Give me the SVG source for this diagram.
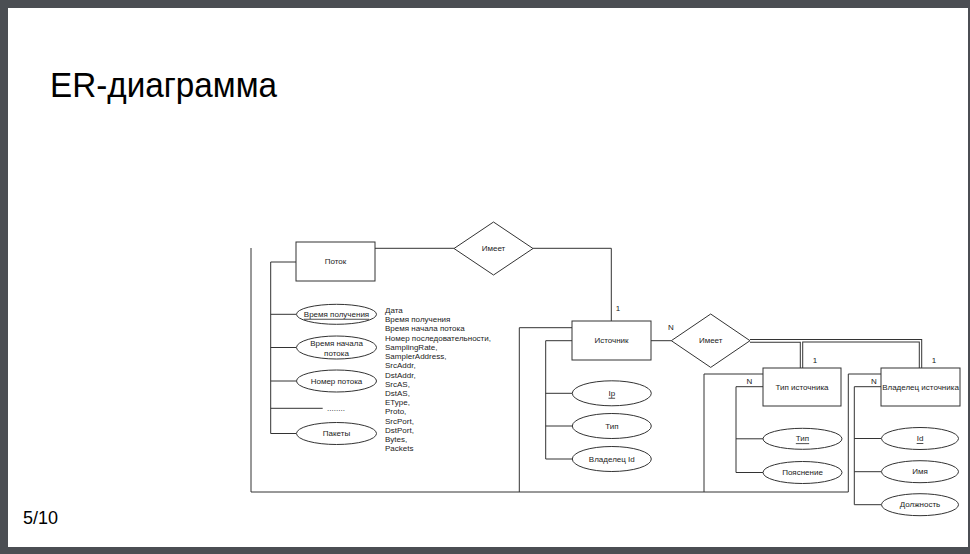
<svg xmlns="http://www.w3.org/2000/svg" width="970" height="554" viewBox="0 0 970 554">
<style>
.ln{fill:none;stroke:#333;stroke-width:1}
.shape{fill:#fff;stroke:#333;stroke-width:1}
.t{font-family:"Liberation Sans",Arial,sans-serif;font-size:8px;fill:#222}
.c{text-anchor:middle;dominant-baseline:central}
.u{text-decoration:underline}
.dbl{fill:none;stroke:#333;stroke-width:3.4}
.dblw{fill:none;stroke:#fff;stroke-width:1.4}
</style>
<rect x="0" y="0" width="970" height="554" fill="#4b4e53"/>
<rect x="8" y="8" width="960" height="539" fill="#fff"/>
<text x="50" y="97" font-family="Liberation Sans, Arial, sans-serif" font-size="35" textLength="227" lengthAdjust="spacingAndGlyphs" fill="#000">ER-диаграмма</text>
<text x="23" y="524" font-family="Liberation Sans, Arial, sans-serif" font-size="18" fill="#000">5/10</text>

<g id="connectors">
  <path class="ln" d="M251,248 V492 H848.3 V374 H881"/>
  <path class="ln" d="M296,262 H270.7 V433.5 H296"/>
  <path class="ln" d="M270.7,314.3 H296 M270.7,347.5 H296 M270.7,381 H296 M270.7,408.3 H322.7"/>
  <path class="ln" d="M375,248.3 H454"/>
  <path class="ln" d="M533,248.3 H611.3 V321"/>
  <path class="ln" d="M572,327.7 H519.3 V492"/>
  <path class="ln" d="M572,340.7 H545.7 V459 H572 M545.7,393.3 H572 M545.7,426 H572"/>
  <path class="ln" d="M651,340.7 H671.3"/>
  <path class="ln" d="M763,374 H704 V492"/>
  <path class="ln" d="M763,386.7 H736 V472.5 H763 M736,438.8 H763"/>
  <path class="ln" d="M881,386.7 H854.3 V504.7 H881 M854.3,438.5 H881 M854.3,471.7 H881"/>
  <path class="dbl" d="M750,340.7 H801.5 V368"/>
  <path class="dbl" d="M750,340.7 H920.5 V368"/>
  <path class="dblw" d="M750,340.7 H801.5 V368"/>
  <path class="dblw" d="M750,340.7 H920.5 V368"/>
  <text class="t c" x="618" y="308.5">1</text>
  <text class="t c" x="671" y="327.7">N</text>
  <text class="t c" x="815" y="360.5">1</text>
  <text class="t c" x="934" y="360.5">1</text>
  <text class="t c" x="749.3" y="381">N</text>
  <text class="t c" x="874" y="381">N</text>
</g>

<g id="potok"><rect class="shape" x="296" y="242" width="79" height="39"/><text class="t c" x="335.5" y="261.5">Поток</text></g>
<g id="attr-vremya-polucheniya"><ellipse class="shape" cx="336.5" cy="314.3" rx="40" ry="10"/><text class="t c u" x="336.5" y="314.3">Время получения</text></g>
<g id="attr-vremya-nachala"><ellipse class="shape" cx="336.5" cy="347.5" rx="40" ry="11.5"/><text class="t" text-anchor="middle" x="336.5" y="346">Время начала</text><text class="t" text-anchor="middle" x="336.5" y="355.5">потока</text></g>
<g id="attr-nomer-potoka"><ellipse class="shape" cx="336.5" cy="381" rx="40" ry="11"/><text class="t c" x="336.5" y="381">Номер потока</text></g>
<g id="attr-more"><text class="t c" x="336" y="408">........</text></g>
<g id="attr-pakety"><ellipse class="shape" cx="336.5" cy="433.5" rx="40" ry="11"/><text class="t c" x="336.5" y="433.5">Пакеты</text></g>
<g id="field-list">
  <text class="t" x="385" y="313">Дата</text>
  <text class="t" x="385" y="322.2">Время получения</text>
  <text class="t" x="385" y="331.4">Время начала потока</text>
  <text class="t" x="385" y="340.7">Номер последовательности,</text>
  <text class="t" x="385" y="349.9">SamplingRate,</text>
  <text class="t" x="385" y="359.1">SamplerAddress,</text>
  <text class="t" x="385" y="368.3">SrcAddr,</text>
  <text class="t" x="385" y="377.5">DstAddr,</text>
  <text class="t" x="385" y="386.8">SrcAS,</text>
  <text class="t" x="385" y="396">DstAS,</text>
  <text class="t" x="385" y="405.2">EType,</text>
  <text class="t" x="385" y="414.4">Proto,</text>
  <text class="t" x="385" y="423.6">SrcPort,</text>
  <text class="t" x="385" y="432.9">DstPort,</text>
  <text class="t" x="385" y="442.1">Bytes,</text>
  <text class="t" x="385" y="451.3">Packets</text>
</g>

<g id="rel-imeet-1"><polygon class="shape" points="454,248.5 493.5,222 533,248.5 493.5,275"/><text class="t c" x="493.5" y="248.5">Имеет</text></g>

<g id="istochnik"><rect class="shape" x="572" y="321" width="79" height="39"/><text class="t c" x="611.5" y="340.5">Источник</text></g>
<g id="attr-ip"><ellipse class="shape" cx="611.8" cy="393.3" rx="39.5" ry="12.5"/><text class="t c u" x="611.8" y="393.3">Ip</text></g>
<g id="attr-tip"><ellipse class="shape" cx="611.8" cy="426" rx="39.5" ry="12.5"/><text class="t c" x="611.8" y="426">Тип</text></g>
<g id="attr-vladelec-id"><ellipse class="shape" cx="611.8" cy="459" rx="39.5" ry="12.5"/><text class="t c" x="611.8" y="459">Владелец Id</text></g>

<g id="rel-imeet-2"><polygon class="shape" points="671.3,340.7 710.7,314 750,340.7 710.7,367.4"/><text class="t c" x="710.7" y="340.7">Имеет</text></g>

<g id="tip-istochnika"><rect class="shape" x="763" y="368" width="78" height="38"/><text class="t c" x="802" y="387">Тип источника</text></g>
<g id="attr-tip2"><ellipse class="shape" cx="802.5" cy="438.8" rx="39.5" ry="10.5"/><text class="t c u" x="802.5" y="438.8">Тип</text></g>
<g id="attr-poyasnenie"><ellipse class="shape" cx="802.5" cy="472.5" rx="39.5" ry="11"/><text class="t c" x="802.5" y="472.5">Пояснение</text></g>

<g id="vladelec-istochnika"><rect class="shape" x="881" y="368" width="79" height="38"/><text class="t c" x="920.5" y="387">Владелец источника</text></g>
<g id="attr-id"><ellipse class="shape" cx="920" cy="438.5" rx="38.5" ry="11"/><text class="t c u" x="920" y="438.5">Id</text></g>
<g id="attr-imya"><ellipse class="shape" cx="920" cy="471.7" rx="38.5" ry="11"/><text class="t c" x="920" y="471.7">Имя</text></g>
<g id="attr-dolzhnost"><ellipse class="shape" cx="920" cy="504.7" rx="38.5" ry="11"/><text class="t c" x="920" y="504.7">Должность</text></g>
</svg>
